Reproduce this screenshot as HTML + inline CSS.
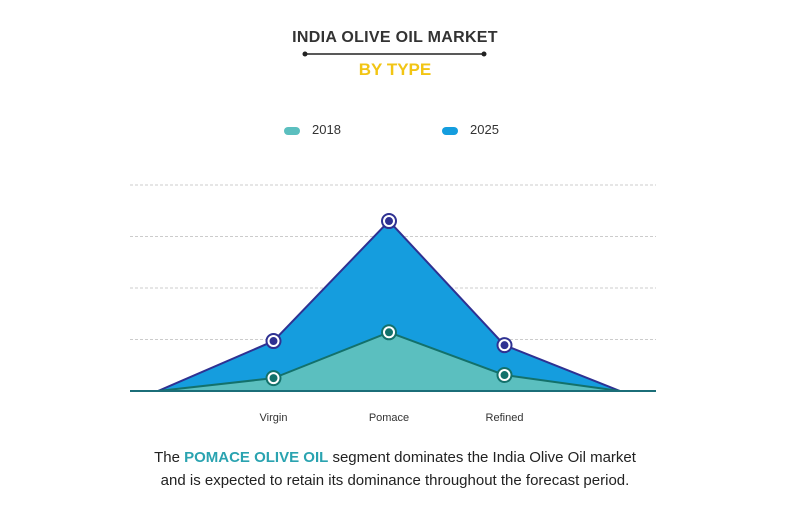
<!DOCTYPE html>
<html><head><meta charset="utf-8"><style>
body{margin:0;width:790px;height:510px;background:#fff;font-family:"Liberation Sans",sans-serif;overflow:hidden;position:relative}
.t{position:absolute;left:0;width:790px;text-align:center}
</style></head><body>
<div class="t" style="top:29px;font-size:16px;font-weight:bold;color:#333;letter-spacing:0.3px">INDIA OLIVE OIL MARKET</div>
<svg style="position:absolute;left:300px;top:50px" width="190" height="8"><line x1="5" y1="4" x2="184" y2="4" stroke="#222" stroke-width="1.5"/><circle cx="5" cy="4" r="2.5" fill="#222"/><circle cx="184" cy="4" r="2.5" fill="#222"/></svg>
<div class="t" style="top:60px;font-size:17px;font-weight:bold;color:#f2c514">BY TYPE</div>
<div style="position:absolute;left:284px;top:122px;font-size:13px;color:#333"><span style="display:inline-block;width:16px;height:8px;border-radius:4px;background:#5bbfbf;margin-right:12px;vertical-align:middle"></span>2018</div>
<div style="position:absolute;left:442px;top:122px;font-size:13px;color:#333"><span style="display:inline-block;width:16px;height:8px;border-radius:4px;background:#149dde;margin-right:12px;vertical-align:middle"></span>2025</div>
<svg id="chart" style="position:absolute;left:0;top:0" width="790" height="440"></svg>
<div class="t" style="top:446px;font-size:15px;line-height:23px;color:#222">The <b style="color:#2aa3b0">POMACE OLIVE OIL</b> segment dominates the India Olive Oil market<br>and is expected to retain its dominance throughout the forecast period.</div>
<script>
const categories=["","Virgin","Pomace","Refined",""];
const s2018=[0,0.25,1.14,0.31,0];
const s2025=[0,0.97,3.30,0.89,0];
const gridTicks=[1,2,3,4];
const svg=document.getElementById('chart');
const NS='http://www.w3.org/2000/svg';
const x=i=>158+i*115.5;
const y=v=>391-v*51.5;
function mk(t,a){const e=document.createElementNS(NS,t);for(const k in a)e.setAttribute(k,a[k]);svg.appendChild(e);return e;}
gridTicks.forEach(g=>{const l=mk('line',{x1:130,x2:656,y1:y(g),y2:y(g),stroke:'#ccc','stroke-dasharray':'3,2'});

});
function area(vals,fill,stroke,name){
 let d='M'+x(0)+','+y(0);vals.forEach((v,i)=>d+=' L'+x(i)+','+y(v));d+=' Z';
 const p=mk('path',{d:d,fill:fill,stroke:stroke,'stroke-width':2,'stroke-linejoin':'round'});
 
 
}
area(s2025,'#159dde','#2e3192','series-2025');
area(s2018,'#5bbfbf','#13716b','series-2018');
const base=mk('line',{x1:130,x2:656,y1:391,y2:391,stroke:'#1b6e78','stroke-width':2});


[[s2025,'#2e3192','point-2025'],[s2018,'#13716b','point-2018']].forEach(([vals,c,n])=>{
 vals.forEach((v,i)=>{if(!categories[i])return;
  const o=mk('circle',{cx:x(i),cy:y(v),r:7,fill:'#fff',stroke:c,'stroke-width':2});
  
  
  mk('circle',{cx:x(i),cy:y(v),r:4,fill:c});
 });});
categories.forEach((c,i)=>{if(!c)return;const t=mk('text',{x:x(i),y:421,'text-anchor':'middle','font-size':11,fill:'#333','font-family':'Liberation Sans, sans-serif'});t.textContent=c;

});
</script>
</body></html>
